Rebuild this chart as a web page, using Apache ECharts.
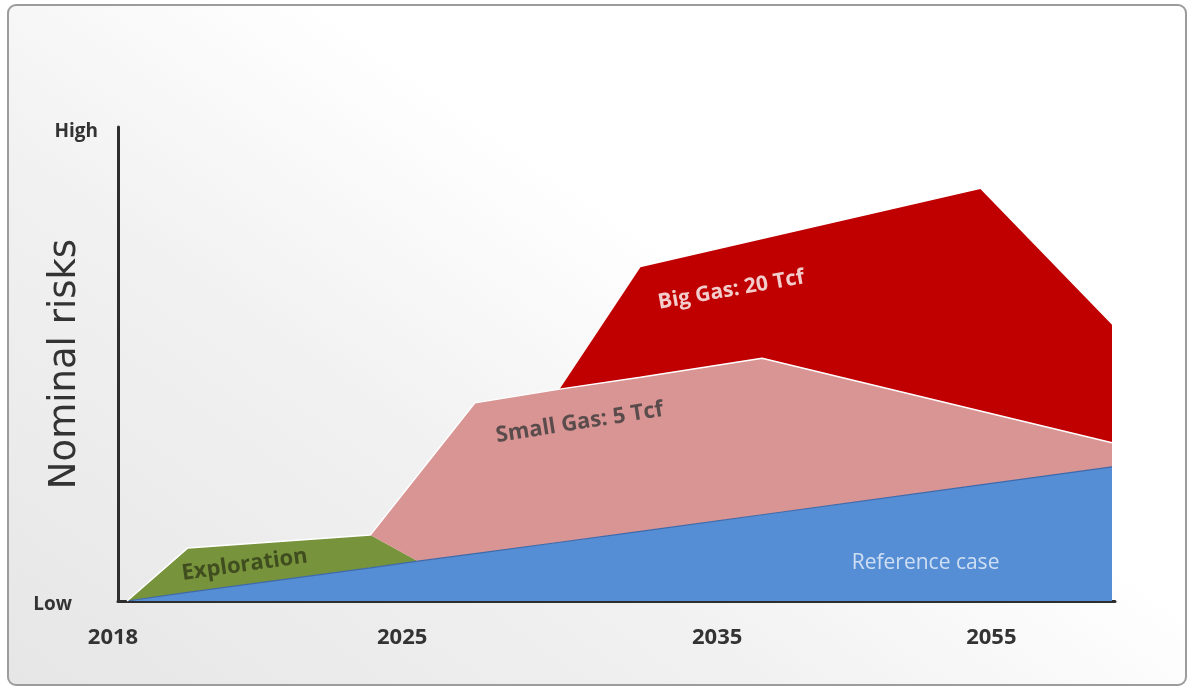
<!DOCTYPE html>
<html>
<head>
<meta charset="utf-8">
<script src="https://cdn.jsdelivr.net/npm/echarts@6/dist/echarts.min.js"></script>
<style>
  html, body { margin:0; padding:0; background:#ffffff; }
  #panel { position:absolute; left:7px; top:4px; width:1176px; height:678px;
    border:2px solid #9c9c9c; border-radius:9px;
    background: linear-gradient(35deg, #e6e6e6 0%, #f1f1f1 35%, #ffffff 60%, #ffffff 100%); }
  #chart { position:absolute; left:0; top:0; width:1187px; height:688px; }
</style>
</head>
<body>
<div id="panel"></div>
<div id="chart"></div>
<script>
// x positions (relative timeline, 0..100) of the shape breakpoints
var xPoints        = [0.9, 7.0, 25.3, 30.1, 35.8, 44.3, 52.4, 64.6, 86.5, 99.7];
// stacked layer thicknesses (nominal risk, 0..100)
var referenceCase  = [0, 1.8, 7.0, 8.4, 10.0, 12.4, 14.7, 18.2, 24.5, 28.3];
var exploration    = [0, 9.4, 6.9, 0, 0, 0, 0, 0, 0, 0];
var smallGas       = [0, 0, 0, 18.3, 31.8, 32.3, 32.5, 33.0, 15.6, 5.1];
var bigGas         = [0, 0, 0, 0, 0, 0, 23.2, 25.1, 46.8, 24.9];

// axis ticks
var xTickPositions = [0, 28.5, 60.1, 87.6];
var xTickLabels    = ['2018', '2025', '2035', '2055'];
var yTickPositions = [0, 100];
var yTickLabels    = ['Low', 'High'];

// area annotations
var annotationText = ['Exploration', 'Small Gas: 5 Tcf', 'Big Gas: 20 Tcf', 'Reference case'];
var annotationX    = [12.7, 46.3, 61.5, 81.0];
var annotationY    = [7.6, 37.6, 65.6, 8.0];

// value first, x second (encode maps them) so the stack is applied on y
function pairs(vals) { return xPoints.map(function (x, i) { return [vals[i], x]; }); }

var LBL = "'Open Sans', sans-serif";
var annStyles = [
  { color:'#323d18', rotate:8,  fontWeight:'bold', fontSize:22 },
  { color:'#3a3a3a', rotate:9,  fontWeight:'bold', fontSize:22 },
  { color:'#ffffff', rotate:10, fontWeight:'bold', fontSize:21 },
  { color:'#eef3fb', rotate:0,  fontWeight:'normal', fontSize:21 }
];

function areaSeries(name, vals, fill, line) {
  return { name:name, type:'line', stack:'risk', data:pairs(vals), encode:{ x:1, y:0 },
    symbol:'none', lineStyle:line, areaStyle:{ color:fill, opacity:1 }, z:2 };
}

var tickStyle = { color:'#333333', fontSize:22, fontWeight:'bold', fontFamily:LBL };

var chart = echarts.init(document.getElementById('chart'), null, { renderer:'canvas' });
chart.setOption({
  backgroundColor: 'transparent',
  animation: false,
  grid: { left:118, right:72, top:127, bottom:87, outerBoundsMode:'none', containLabel:false },
  xAxis: {
    type:'value', min:0, max:100,
    axisLine: { show:true, onZero:false, lineStyle:{ color:'#2e2e2e', width:3 } },
    axisTick: { show:false },
    splitLine: { show:false },
    axisLabel: {
      customValues: xTickPositions,
      formatter: function (v) {
        var i = xTickPositions.indexOf(v);
        if (i < 0) return '';
        return (i === 0 ? '{first|' : '{yr|') + xTickLabels[i] + '}';
      },
      margin: 26, color:'#333333', fontSize:22, fontWeight:'bold', fontFamily:LBL,
      rich: {
        yr: tickStyle,
        first: Object.assign({ padding:[0,10,0,0] }, tickStyle)
      }
    }
  },
  yAxis: {
    type:'value', min:0, max:100,
    name:'Nominal risks', nameLocation:'middle', nameRotate:90, nameGap:34, nameMoveOverlap:false,
    nameTextStyle: { color:'#333333', fontSize:37, fontFamily:"'DejaVu Sans', sans-serif", fontWeight:'normal' },
    axisLine: { show:true, lineStyle:{ color:'#2e2e2e', width:3 } },
    axisTick: { show:false },
    splitLine: { show:false },
    axisLabel: {
      customValues: yTickPositions,
      formatter: function (v) { var i = yTickPositions.indexOf(v); return i === 0 ? '{lo|' + yTickLabels[0] + '}' : '{hi|' + yTickLabels[1] + '}'; },
      margin: 20, color:'#333333', fontSize:19, fontWeight:'bold', fontFamily:LBL,
      rich: {
        lo: { color:'#333333', fontSize:19, fontWeight:'bold', fontFamily:LBL, padding:[8,26,0,0] },
        hi: { color:'#333333', fontSize:19, fontWeight:'bold', fontFamily:LBL, padding:[10,0,0,0] }
      }
    }
  },
  series: [
    areaSeries('Reference case', referenceCase, '#558ed5', { color:'#3d69aa', width:1.2 }),
    areaSeries('Exploration', exploration, '#77933c', { width:0 }),
    areaSeries('Small Gas', smallGas, '#d99594', { color:'#ffffff', width:1.5 }),
    areaSeries('Big Gas', bigGas, '#c00000', { width:0 }),
    { type:'scatter', symbolSize:0, silent:true, z:5,
      data: annotationText.map(function (t, i) {
        var s = annStyles[i];
        return { value:[annotationX[i], annotationY[i]],
          label:{ show:true, position:'inside', formatter:t, color:s.color, rotate:s.rotate,
                  fontSize:s.fontSize, fontWeight:s.fontWeight, fontFamily:LBL } };
      })
    }
  ]
});
</script>
</body>
</html>
